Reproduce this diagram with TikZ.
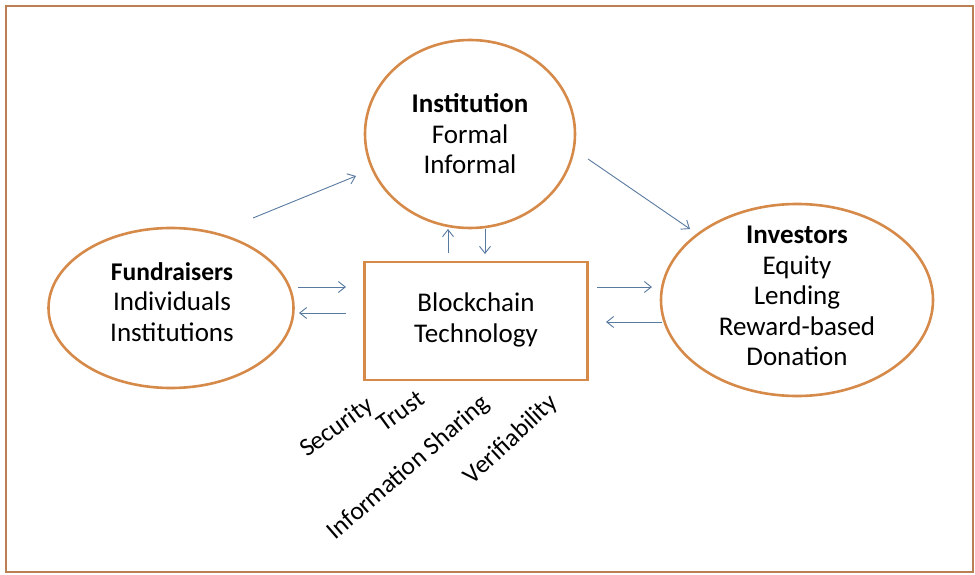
\documentclass[tikz,border=0pt]{standalone}
\usepackage{fontspec}
\setmainfont{Carlito}
\usetikzlibrary{shapes.geometric,arrows.meta}
\definecolor{ringc}{RGB}{214,138,74}
\definecolor{framec}{RGB}{186,128,84}
\definecolor{arrc}{RGB}{88,122,160}
\begin{document}
\begin{tikzpicture}[x=1pt,y=-1pt,
  ring/.style={ellipse,draw=ringc,line width=2.6pt,inner sep=0pt},
  boxc/.style={rectangle,draw=ringc,line width=2.6pt,inner sep=0pt},
  txt/.style={align=center,font=\fontsize{27}{30.5}\selectfont,inner sep=0pt},
  lab/.style={font=\fontsize{25.5}{28}\selectfont,inner sep=0pt},
  flow/.style={draw=arrc,line width=0.9pt,-{Straight Barb[length=7pt,width=11pt]}}]
\useasboundingbox (0,0) rectangle (975,575);
\draw[framec,line width=2.5pt] (6,6) rectangle (973,572);
% shapes
\node[ring,minimum width=210,minimum height=188] (inst) at (470,134) {};
\node[ring,minimum width=245,minimum height=160] (fund) at (171,308) {};
\node[ring,minimum width=272,minimum height=192] (inv) at (797,300) {};
\node[boxc,minimum width=223,minimum height=118] (bc) at (476,321) {};
% texts
\node[txt] (instt) at (470,134) {\textbf{Institution}\\Formal\\Informal};
\node[txt] (fundt) at (172,302) {\textbf{\fontsize{25.5}{30.5}\selectfont Fundraisers}\\Individuals\\Institutions};
\node[txt] (invt) at (797,296) {\textbf{Investors}\\Equity\\Lending\\Reward-based\\Donation};
\node[txt] (bct) at (476,320) {Blockchain\\Technology};
% rotated labels
\node[lab,rotate=36] (sec) at (337,428) {Security};
\node[lab,rotate=36] (tru) at (401,411) {Trust};
\node[lab,rotate=41] (inf) at (409,468) {Information Sharing};
\node[lab,rotate=43] (ver) at (511,440) {Verifiability};
% arrow end points
\coordinate (a1s) at (253,218); \coordinate (a1e) at (356,176);
\coordinate (a2s) at (588,159); \coordinate (a2e) at (690,229);
\coordinate (a3s) at (448,253); \coordinate (a3e) at (448,229);
\coordinate (a4s) at (485,229); \coordinate (a4e) at (485,254);
\coordinate (a5s) at (298,287); \coordinate (a5e) at (346,287);
\coordinate (a6s) at (346,313); \coordinate (a6e) at (299,313);
\coordinate (a7s) at (597,287); \coordinate (a7e) at (652,287);
\coordinate (a8s) at (662,322); \coordinate (a8e) at (606,322);
\draw[flow] (a1s) -- (a1e);
\draw[flow] (a2s) -- (a2e);
\draw[flow] (a3s) -- (a3e);
\draw[flow] (a4s) -- (a4e);
\draw[flow] (a5s) -- (a5e);
\draw[flow] (a6s) -- (a6e);
\draw[flow] (a7s) -- (a7e);
\draw[flow] (a8s) -- (a8e);
\end{tikzpicture}
\end{document}
